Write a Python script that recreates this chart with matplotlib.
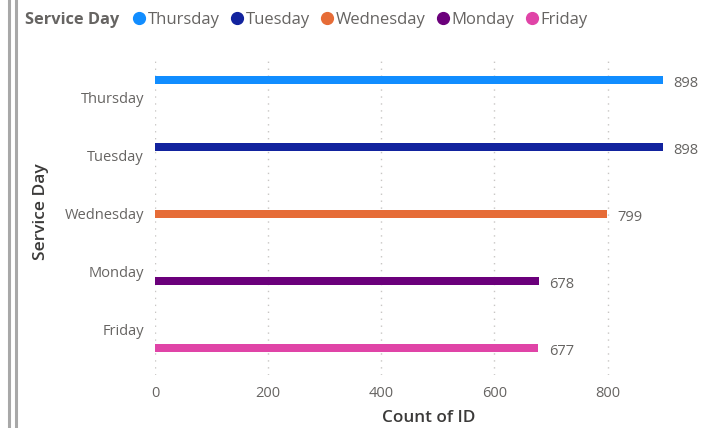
import matplotlib
matplotlib.use("Agg")
import matplotlib.pyplot as plt
from matplotlib.lines import Line2D

days = ["Thursday", "Tuesday", "Wednesday", "Monday", "Friday"]
counts = [898, 898, 799, 678, 677]
colors = ["#118DFF", "#12239E", "#E66C37", "#6B007B", "#E044A7"]
xticks = [0, 200, 400, 600, 800]

plt.rcParams["font.family"] = ["Open Sans", "DejaVu Sans"]
text_gray = "#666462"
title_dark = "#3B3A39"

fig = plt.figure(figsize=(7.04, 4.28), dpi=100)
ax = fig.add_axes([155 / 704, 1 - 375 / 428, 508 / 704, 317 / 428])

n = len(days)
slot = 9 / 58
bar_h = 7.5 / 58
for j, (day, val, col) in enumerate(zip(days, counts, colors)):
    y = j + (j - (n - 1) / 2) * slot
    ax.barh(y, val, height=bar_h, color=col, zorder=3)
    ax.text(val + 19, y + 0.06, f"{val}", va="center", ha="left",
            fontsize=10.5, color=text_gray)

ax.set_xlim(0, 898)
ax.set_ylim(4.78, -0.69)
ax.set_yticks(range(n))
ax.set_yticklabels(days, fontsize=10.5, color=text_gray)
ax.set_xticks(xticks)
ax.set_xticklabels([str(t) for t in xticks], fontsize=10.5, color=text_gray)
ax.tick_params(axis="both", length=0)
ax.tick_params(axis="y", pad=8)
ax.tick_params(axis="x", pad=8)
for s in ax.spines.values():
    s.set_visible(False)
ax.grid(axis="x", color="#C8C6C4", linestyle=(0, (1, 4)), linewidth=1, zorder=0)

ax.set_xlabel("Count of ID", fontsize=12.3, color=title_dark, fontweight="semibold")
ax.set_ylabel("Service Day", fontsize=12.5, color=title_dark, fontweight="semibold")
ax.xaxis.set_label_coords((429 - 155) / 508, -(410 - 375) / 317)
ax.yaxis.set_label_coords(-(155 - 49) / 508, 1 - (212 - 58) / 317)

# legend row across the top
fig.text(25 / 704, 1 - 20 / 428, "Service Day", fontsize=11.8, fontweight="bold",
         color=text_gray, va="center", ha="left")
handles = [Line2D([], [], marker="o", linestyle="", markersize=8.5,
                  markerfacecolor=c, markeredgecolor=c) for c in colors]
fig.legend(handles, days, loc="center left", bbox_to_anchor=(131 / 704, 1 - 20 / 428),
           ncol=n, frameon=False, fontsize=12, handletextpad=0.0, columnspacing=0.55,
           handlelength=1.0, labelcolor=text_gray, borderaxespad=0, borderpad=0)

# double frame border on the left edge
for xp in (8.5, 15.5):
    fig.add_artist(Line2D([xp / 704, xp / 704], [0, 1], transform=fig.transFigure,
                          color="#A8A8A8", linewidth=2.2))

fig.savefig("out.png", dpi=100)
